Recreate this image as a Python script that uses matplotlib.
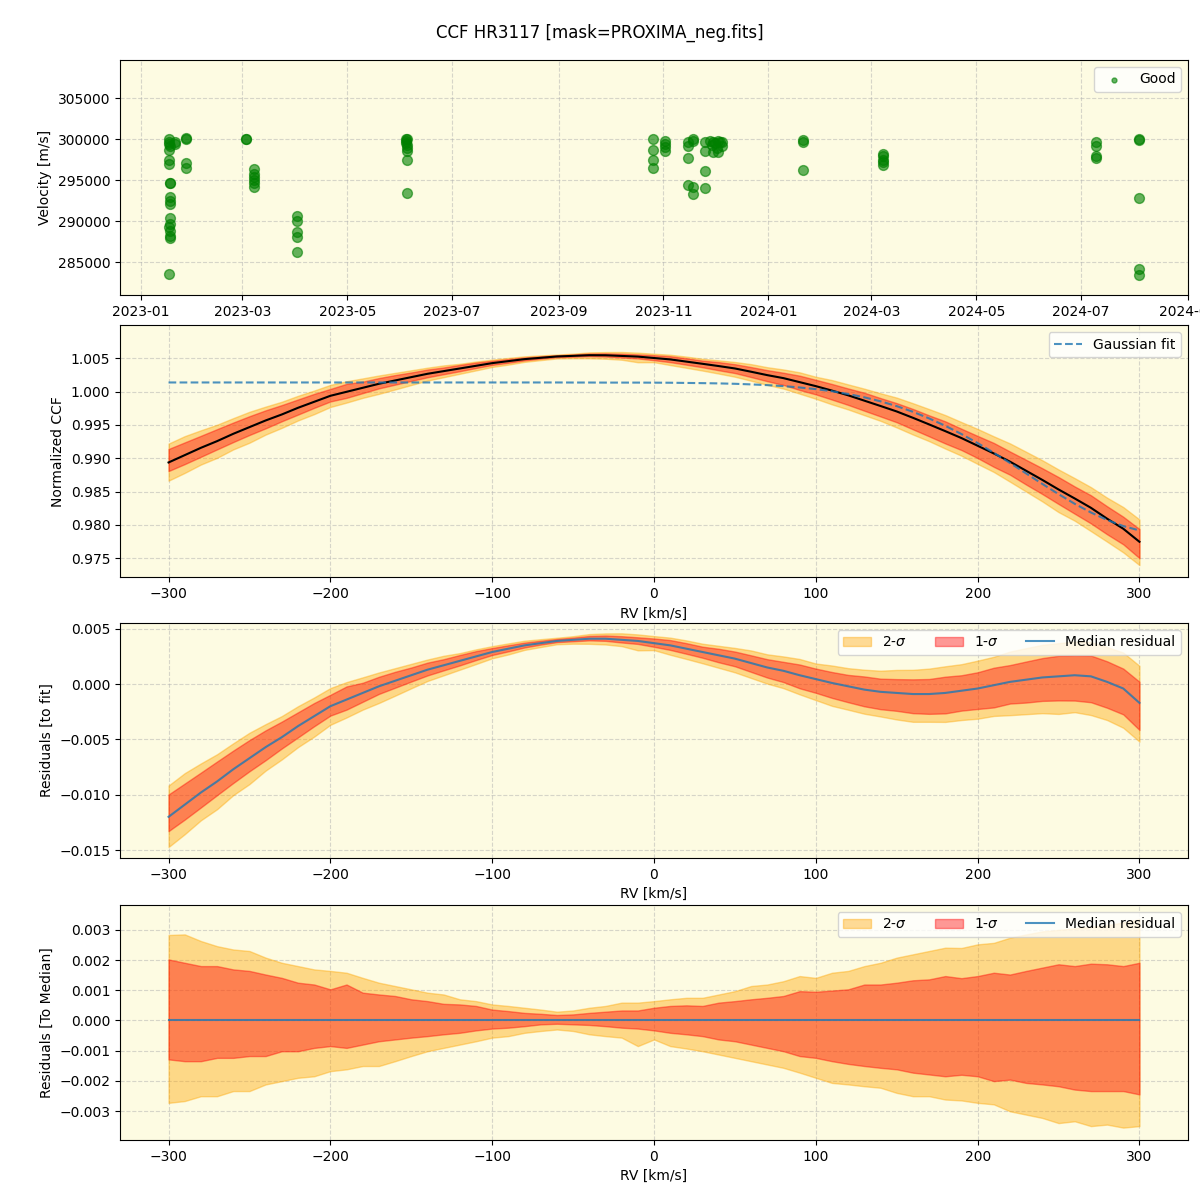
import matplotlib
matplotlib.use("Agg")
import matplotlib.pyplot as plt
import matplotlib.dates as mdates
import numpy as np
import pandas as pd

# ---- top panel: velocities per night ----
obs_dates = [
    "2023-01-17", "2023-01-17", "2023-01-17", "2023-01-18", "2023-01-17", "2023-01-17",
    "2023-01-17", "2023-01-18", "2023-01-18", "2023-01-18", "2023-01-18", "2023-01-18",
    "2023-01-18", "2023-01-18", "2023-01-17", "2023-01-18", "2023-01-18", "2023-01-18",
    "2023-01-17", "2023-01-21", "2023-01-21", "2023-01-27", "2023-01-27", "2023-01-27",
    "2023-01-27",
    "2023-03-03", "2023-03-03", "2023-03-08", "2023-03-08", "2023-03-08", "2023-03-08",
    "2023-03-08", "2023-03-08",
    "2023-04-02", "2023-04-02", "2023-04-02", "2023-04-02", "2023-04-02",
    "2023-06-04", "2023-06-04", "2023-06-05", "2023-06-04", "2023-06-05", "2023-06-05",
    "2023-06-05", "2023-06-05", "2023-06-05",
    "2023-10-26", "2023-10-26", "2023-10-26", "2023-10-26",
    "2023-11-02", "2023-11-02", "2023-11-02", "2023-11-02",
    "2023-11-15", "2023-11-15", "2023-11-15", "2023-11-15",
    "2023-11-18", "2023-11-18", "2023-11-18", "2023-11-18",
    "2023-11-25", "2023-11-25", "2023-11-25", "2023-11-25",
    "2023-11-28", "2023-11-29", "2023-11-30", "2023-11-30", "2023-12-01", "2023-12-02",
    "2023-12-03", "2023-12-03", "2023-12-04", "2023-12-05", "2023-12-05",
    "2024-01-21", "2024-01-21", "2024-01-21",
    "2024-03-08", "2024-03-08", "2024-03-08", "2024-03-08", "2024-03-08",
    "2024-07-10", "2024-07-10", "2024-07-10", "2024-07-10",
    "2024-08-04", "2024-08-04", "2024-08-04", "2024-08-04", "2024-08-04",
]
obs_rv = [
    300000, 299700, 299400, 299100, 298700, 297400,
    297000, 294700, 294600, 292900, 292500, 292100,
    290400, 289600, 289300, 288800, 288200, 287900,
    283600, 299400, 299600, 300000, 300100, 297100,
    296500,
    300000, 300050, 296400, 295800, 295400, 295000,
    294600, 294200,
    290600, 290000, 288700, 288100, 286300,
    300000, 299800, 300000, 299500, 299300, 298900,
    298500, 297500, 293400,
    300000, 298700, 297500, 296500,
    299800, 299400, 299000, 298600,
    299600, 299200, 297700, 294400,
    300000, 299800, 294200, 293300,
    299700, 298600, 296100, 294000,
    299800, 299300, 299700, 298400, 299500, 298900,
    299800, 298400, 299600, 299700, 299200,
    299900, 299600, 296200,
    298200, 297900, 297500, 297200, 296800,
    299600, 299200, 297900, 297700,
    300000, 299900, 292800, 284200, 283500,
]

# ---- CCF profiles on the RV grid (km/s) ----
rv = np.arange(-300, 301, 10)

gauss_fit = [
    1.00136, 1.00136, 1.00136, 1.00136, 1.00136, 1.00136, 1.00136, 1.00136, 1.00136, 1.00136,
    1.00136, 1.00136, 1.00136, 1.00136, 1.00136, 1.00136, 1.00136, 1.00136, 1.00136, 1.00136,
    1.00136, 1.00136, 1.00136, 1.00136, 1.00136, 1.00135, 1.00135, 1.00134, 1.00134, 1.00134,
    1.00133, 1.00132, 1.00129, 1.00126, 1.00122, 1.00116, 1.00107, 1.00096, 1.00081, 1.00061,
    1.00036, 1.00004, 0.99963, 0.99913, 0.99853, 0.99781, 0.99696, 0.99597, 0.99486, 0.99362,
    0.99227, 0.99081, 0.98928, 0.98771, 0.98614, 0.98461, 0.98316, 0.98186, 0.98073, 0.97982,
    0.97916,
]

resid_median = [
    -0.0120, -0.0109, -0.0098, -0.0088, -0.0077, -0.0067, -0.0057, -0.0048, -0.0038, -0.0029,
    -0.0020, -0.0014, -0.0008, -0.0002, 0.0003, 0.0008, 0.0013, 0.0017, 0.0021, 0.0025,
    0.0029, 0.0032, 0.0035, 0.0037, 0.0039, 0.0040, 0.0041, 0.0041, 0.0040, 0.0039,
    0.0037, 0.0035, 0.0032, 0.0029, 0.0026, 0.0023, 0.0019, 0.0015, 0.0012, 0.0008,
    0.00045, 0.0001, -0.0002, -0.0005, -0.0007, -0.0008, -0.0009, -0.0009, -0.0008, -0.0006,
    -0.0004, -0.0001, 0.0002, 0.0004, 0.0006, 0.0007, 0.0008, 0.0007, 0.0002, -0.0004,
    -0.0017,
]

# band edges relative to the median, in units of 1e-3
sig2_hi = [
    2.83, 2.85, 2.63, 2.46, 2.35, 2.30, 2.08, 1.91, 1.80, 1.69,
    1.64, 1.58, 1.41, 1.25, 1.14, 1.03, 0.92, 0.86, 0.70, 0.64,
    0.53, 0.48, 0.42, 0.36, 0.29, 0.33, 0.42, 0.48, 0.59, 0.59,
    0.64, 0.70, 0.75, 0.75, 0.86, 0.97, 1.14, 1.19, 1.30, 1.47,
    1.41, 1.58, 1.64, 1.80, 1.91, 2.08, 2.19, 2.30, 2.41, 2.40,
    2.52, 2.57, 2.74, 2.85, 2.95, 3.00, 3.05, 3.10, 3.15, 3.25,
    3.35,
]
sig1_hi = [
    2.02, 1.91, 1.80, 1.80, 1.69, 1.64, 1.52, 1.41, 1.25, 1.19,
    1.03, 1.19, 0.92, 0.86, 0.81, 0.70, 0.64, 0.55, 0.53, 0.48,
    0.36, 0.31, 0.25, 0.22, 0.18, 0.20, 0.25, 0.29, 0.33, 0.33,
    0.42, 0.48, 0.50, 0.48, 0.59, 0.64, 0.70, 0.75, 0.81, 0.97,
    0.95, 0.99, 1.03, 1.19, 1.19, 1.25, 1.33, 1.36, 1.47, 1.40,
    1.47, 1.58, 1.52, 1.64, 1.75, 1.86, 1.80, 1.88, 1.86, 1.80,
    1.91,
]
sig1_lo = [
    -1.29, -1.35, -1.35, -1.24, -1.24, -1.18, -1.18, -1.02, -1.02, -0.91,
    -0.85, -0.91, -0.80, -0.69, -0.63, -0.57, -0.52, -0.46, -0.41, -0.33,
    -0.27, -0.24, -0.19, -0.13, -0.11, -0.13, -0.15, -0.19, -0.24, -0.27,
    -0.33, -0.41, -0.46, -0.52, -0.63, -0.69, -0.80, -0.91, -1.02, -1.18,
    -1.24, -1.35, -1.44, -1.51, -1.57, -1.62, -1.73, -1.79, -1.85, -1.80,
    -1.85, -2.01, -1.96, -2.07, -2.12, -2.18, -2.29, -2.34, -2.34, -2.34,
    -2.45,
]
sig2_lo = [
    -2.73, -2.67, -2.51, -2.51, -2.34, -2.34, -2.12, -2.01, -1.90, -1.85,
    -1.68, -1.62, -1.51, -1.51, -1.35, -1.18, -1.02, -0.91, -0.80, -0.69,
    -0.57, -0.52, -0.41, -0.35, -0.30, -0.35, -0.46, -0.52, -0.57, -0.85,
    -0.63, -0.85, -0.93, -1.02, -1.13, -1.24, -1.35, -1.46, -1.57, -1.73,
    -1.90, -2.07, -2.12, -2.18, -2.23, -2.40, -2.51, -2.51, -2.62, -2.65,
    -2.73, -2.78, -3.01, -3.12, -3.23, -3.40, -3.34, -3.50, -3.45, -3.55,
    -3.50,
]

gauss_fit = np.array(gauss_fit)
resid_median = np.array(resid_median)
ccf_median = gauss_fit + resid_median
s2_hi = np.array(sig2_hi) * 1e-3
s1_hi = np.array(sig1_hi) * 1e-3
s1_lo = np.array(sig1_lo) * 1e-3
s2_lo = np.array(sig2_lo) * 1e-3

bg = "#fdfbe2"
fig = plt.figure(figsize=(12, 12), dpi=100)
fig.suptitle("CCF HR3117 [mask=PROXIMA_neg.fits]", fontsize=12, y=0.98)

ax1 = fig.add_axes([0.1, 0.754, 0.89, 0.196])
ax2 = fig.add_axes([0.1, 0.519, 0.89, 0.21])
ax3 = fig.add_axes([0.1, 0.285, 0.89, 0.196])
ax4 = fig.add_axes([0.1, 0.05, 0.89, 0.196])

for ax in (ax1, ax2, ax3, ax4):
    ax.set_facecolor(bg)
    ax.grid(True, linestyle="--", alpha=0.5)
    ax.set_axisbelow(True)

# top: velocities
ax1.scatter(pd.to_datetime(obs_dates), obs_rv, color="green", alpha=0.6, s=50, label="Good")
ax1.xaxis.set_major_locator(mdates.MonthLocator(bymonth=[1, 3, 5, 7, 9, 11]))
ax1.xaxis.set_major_formatter(mdates.DateFormatter("%Y-%m"))
ax1.set_ylim(280980, 309630)
ax1.set_xlabel("Date")
ax1.set_ylabel("Velocity [m/s]")
ax1.legend(loc="upper right", markerscale=0.5)

# CCF with bands
ax2.fill_between(rv, ccf_median + s2_lo, ccf_median + s2_hi, color="orange", alpha=0.4)
ax2.fill_between(rv, ccf_median + s1_lo, ccf_median + s1_hi, color="red", alpha=0.4)
ax2.plot(rv, ccf_median, color="black", lw=1.5)
ax2.plot(rv, gauss_fit, "--", color="tab:blue", alpha=0.8, lw=1.5, label="Gaussian fit")
ax2.set_xlim(-330, 330)
ax2.set_ylim(0.97215, 1.00995)
ax2.set_xlabel("RV [km/s]")
ax2.set_ylabel("Normalized CCF")
ax2.legend(loc="upper right")

# residuals to fit
ax3.fill_between(rv, resid_median + s2_lo, resid_median + s2_hi, color="orange", alpha=0.4, label="2-$\\sigma$")
ax3.fill_between(rv, resid_median + s1_lo, resid_median + s1_hi, color="red", alpha=0.4, label="1-$\\sigma$")
ax3.plot(rv, resid_median, color="tab:blue", alpha=0.8, lw=1.5, label="Median residual")
ax3.set_xlim(-330, 330)
ax3.set_ylim(-0.01572, 0.00554)
ax3.set_xlabel("RV [km/s]")
ax3.set_ylabel("Residuals [to fit]")
ax3.legend(loc="upper right", ncol=3)

# residuals to median
ax4.fill_between(rv, s2_lo, s2_hi, color="orange", alpha=0.4, label="2-$\\sigma$")
ax4.fill_between(rv, s1_lo, s1_hi, color="red", alpha=0.4, label="1-$\\sigma$")
ax4.plot(rv, np.zeros(len(rv)), color="tab:blue", alpha=0.8, lw=1.5, label="Median residual")
ax4.set_xlim(-330, 330)
ax4.set_ylim(-0.00396, 0.00383)
ax4.set_xlabel("RV [km/s]")
ax4.set_ylabel("Residuals [To Median]")
ax4.legend(loc="upper right", ncol=3)

fig.savefig("out.png")
